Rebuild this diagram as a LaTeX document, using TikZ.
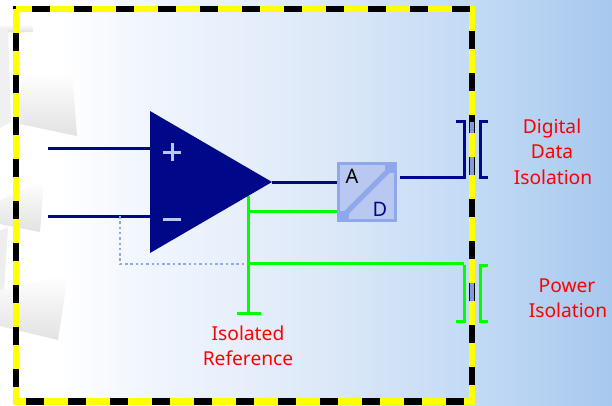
\documentclass[tikz,border=0pt]{standalone}
\usepackage{fontspec}
\setmainfont{Noto Sans}
\usetikzlibrary{shadings}
\definecolor{navy}{HTML}{00088A}
\definecolor{grn}{HTML}{00FF00}
\definecolor{pale}{HTML}{8FA8EC}
\definecolor{adcfill}{HTML}{B8C8F0}
\definecolor{hazard}{HTML}{FFFF00}
\definecolor{gapblue}{HTML}{7F9BD8}
\definecolor{bgA}{HTML}{F3F7FE}
\definecolor{bgB}{HTML}{DCE8F8}
\definecolor{bgC}{HTML}{C2DAF5}
\definecolor{bgD}{HTML}{A8C8EE}
\definecolor{ghostdark}{HTML}{E2E2E2}
\pgfdeclarehorizontalshading{bgshade}{100bp}{
 color(0bp)=(white);
 color(25bp)=(white);
 color(29.9bp)=(white);
 color(35.6bp)=(bgA);
 color(52bp)=(bgB);
 color(63.8bp)=(bgC);
 color(75bp)=(bgD);
 color(100bp)=(bgD)}
\tikzset{
 navywire/.style={draw=navy,line width=3pt},
 greenwire/.style={draw=grn,line width=3pt},
 navybracket/.style={draw=navy,line width=3pt,line join=miter},
 greenbracket/.style={draw=grn,line width=3pt,line join=miter},
 redlabel/.style={text=red,font=\fontsize{19.2}{22}\selectfont,inner sep=0pt,anchor=base},
 adcletter/.style={inner sep=0pt,font=\fontsize{20}{22}\selectfont},
 blackdash/.style={draw=black,line width=6.5pt},
 ghost/.style={top color=white,bottom color=ghostdark,draw=none},
}
\begin{document}
\begin{tikzpicture}[x=1pt,y=-1pt]
\useasboundingbox (0,0) rectangle (612,405);
\shade[shading=bgshade] (0,0) rectangle (612,405);
% ghost shapes
\shade[ghost] (0,26) -- (32,24) -- (33,32) -- (0,32) -- cycle;
\fill[ghostdark!50] (0,30) -- (8,28) -- (11,122) -- (0,128) -- cycle;
\shade[ghost] (20,78) -- (72,72) -- (77,136) -- (20,124) -- cycle;
\shade[ghost] (0,200) -- (44,180) -- (40,232) -- (0,224) -- cycle;
\fill[ghostdark!60] (0,230) -- (8,228) -- (4,290) -- (0,300) -- cycle;
\shade[ghost] (0,290) -- (68,275) -- (58,340) -- (0,326) -- cycle;
% border
\draw[hazard,line width=6.5pt] (16,9) rectangle (472,401.5);
\foreach \y in {33,75,...,369} \draw[blackdash] (16,\y) -- (16,\y+18);
\foreach \x in {32,74,...,452} \draw[blackdash] (\x,9) -- (\x+18,9);
\foreach \x in {26,68,...,446} \draw[blackdash] (\x,401.5) -- (\x+18,401.5);
\foreach \y in {31,73,...,367} \draw[blackdash] (472,\y) -- (472,\y+18);
\fill[black] (13,6) rectangle (16,9);
% isolation gaps
\foreach \a/\b in {122/133,157/175,283/301} {
  \fill[black] (469,\a) rectangle (475,\b);
  \fill[gapblue] (470,\a) rectangle (471.8,\b);
  \fill[gapblue] (472.4,\a) rectangle (474,\b);
}
% coordinates
\coordinate (inp) at (48,148);
\coordinate (inm) at (48,216);
\coordinate (tl) at (150,111);
\coordinate (bl) at (150,253);
\coordinate (tip) at (272,182);
\coordinate (ip) at (150,148);
\coordinate (im) at (150,216);
\coordinate (tap) at (120,216);
\coordinate (dotc) at (120,264);
\coordinate (gtop) at (248,196);
\coordinate (gj1) at (248,211);
\coordinate (gj2) at (248,263);
\coordinate (gnd) at (248,313);
\coordinate (gl) at (237,313);
\coordinate (gr) at (261,313);
\coordinate (pw) at (464,263);
% ADC
\node[draw=pale,fill=adcfill,line width=3pt,minimum size=57pt,inner sep=0pt,outer sep=1.5pt] (adc) at (367,192) {};
\draw[pale,line width=5pt] (343,216) -- (391,168);
\fill[pale] (339,211) rectangle (349,220);
\fill[pale] (385,164) rectangle (395,173);
\node[adcletter,text=black] (la) at (352,176) {A};
\node[adcletter,text=navy] (ld) at (380,209) {D};
% wires
\draw[navywire] (inp) -- (ip);
\draw[navywire] (inm) -- (im);
\draw[pale,line width=2.5pt,dash pattern=on 2.5pt off 2.8pt] (tap) -- (dotc) -- (dotc -| gj2);
\draw[greenwire] (gtop) -- (gnd);
\draw[greenwire] (gl) -- (gr);
\draw[greenwire] (gj1) -- (gj1 -| adc.west);
\draw[greenwire] (gj2) -- (pw);
\draw[navywire] (tip) -- (tip -| adc.west);
\fill[navy] (tl) -- (bl) -- (tip) -- cycle;
\draw[adcfill,line width=3pt] (163,152) -- (181,152) (172,143) -- (172,161);
\draw[adcfill,line width=3.5pt] (163,219.5) -- (181,219.5);
% brackets
\coordinate (dout) at (400,177);
\draw[navybracket] (dout) -- (464,177) -- (464,121) -- (456,121);
\draw[navybracket] (488,121) -- (480,121) -- (480,177) -- (488,177);
\draw[greenbracket] (464,265) -- (464,321) -- (456,321);
\draw[greenbracket] (488,265) -- (480,265) -- (480,321) -- (488,321);
% labels
\node[redlabel] (t1) at (552,133) {Digital};
\node[redlabel] (t2) at (552,158) {Data};
\node[redlabel] (t3) at (553,184) {Isolation};
\node[redlabel] (t4) at (567,292) {Power};
\node[redlabel] (t5) at (568,317) {Isolation};
\node[redlabel] (t6) at (248,340) {Isolated};
\node[redlabel] (t7) at (248,365) {Reference};
\end{tikzpicture}
\end{document}
